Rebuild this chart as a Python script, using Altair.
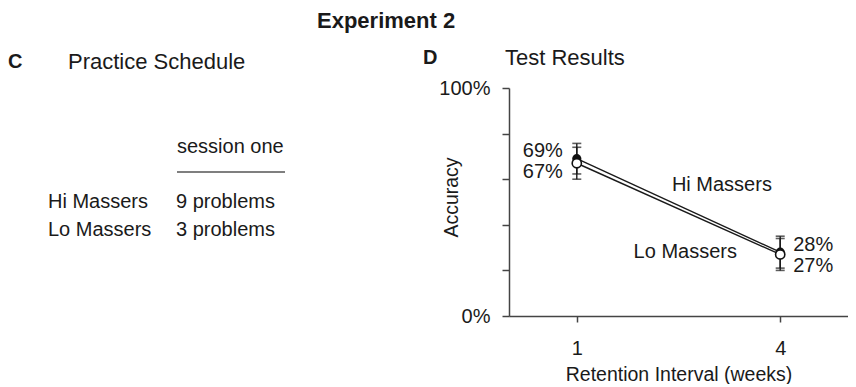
import altair as alt
import pandas as pd

# ---------------- data ----------------
weeks = [1, 4]
series = ["Hi Massers", "Lo Massers"]
hi_acc = [0.69, 0.28]
lo_acc = [0.67, 0.27]
hi_err = [0.067, 0.07]
lo_err = [0.07, 0.07]

groups = ["Hi Massers", "Lo Massers"]
problems = ["9 problems", "3 problems"]

FONT = "Liberation Sans"
INK = "#1a1a1a"
W, H = 339, 228

rows = []
for s, accs, errs in [(series[0], hi_acc, hi_err), (series[1], lo_acc, lo_err)]:
    for w, a, e in zip(weeks, accs, errs):
        rows.append({"series": s, "week": w, "acc": a, "lo": a - e, "hi": a + e})
df = pd.DataFrame(rows)

one = alt.InlineData(values=[{"k": 1}])


def note(text, x, y, size=20, weight="normal", align="left"):
    return alt.Chart(one).mark_text(
        text=text, font=FONT, fontSize=size, fontWeight=weight, align=align,
        baseline="middle", color=INK,
    ).encode(x=alt.value(x), y=alt.value(y))


# ---------------- panel C (schedule table), drawn left of panel D ----------------
panel_c = [
    note("Experiment 2", -192, -67, size=22, weight="bold"),
    note("C", -501, -26, size=20, weight="bold"),
    note("Practice Schedule", -441, -26, size=22),
    note("session one", -332, 59),
    alt.Chart(one).mark_rule(color="#555", strokeWidth=1.6).encode(
        x=alt.value(-332), x2=alt.value(-224), y=alt.value(84)),
]
for i, (g, p) in enumerate(zip(groups, problems)):
    panel_c.append(note(g, -461, 114 + 28 * i))
    panel_c.append(note(p, -333, 114 + 28 * i))

panel_d_titles = [
    note("D", -86, -30, size=20, weight="bold"),
    note("Test Results", -4, -30, size=22),
]

# ---------------- panel D (test results) ----------------
x_enc = alt.X("week:Q", scale=alt.Scale(domain=[0, 5], nice=False),
              axis=alt.Axis(values=weeks, format="d", title="Retention Interval (weeks)",
                            grid=False, tickSize=6, labelPadding=16, titlePadding=7))
y_axis = alt.Axis(values=[0, 0.2, 0.4, 0.6, 0.8, 1.0],
                  labelExpr="datum.value == 0 || datum.value == 1 ? format(datum.value, '.0%') : ''",
                  title="Accuracy", grid=False, tickSize=7, labelPadding=12,
                  titleX=-48, titleY=109)
yscale = alt.Scale(domain=[0, 1], nice=False)


def Y(field):
    return alt.Y(f"{field}:Q", scale=yscale, axis=y_axis, title="Accuracy")


base = alt.Chart(df)
hi_only = alt.datum.series == series[0]
lo_only = alt.datum.series == series[1]

lines = base.mark_line(color=INK, strokeWidth=1.4).encode(x=x_enc, y=Y("acc"), detail="series:N")
bars = base.mark_rule(color=INK, strokeWidth=1.4).encode(x=x_enc, y=Y("lo"), y2="hi:Q")
cap_lo = base.mark_tick(orient="horizontal", size=9, thickness=1.6, color=INK).encode(x=x_enc, y=Y("lo"))
cap_hi = base.mark_tick(orient="horizontal", size=9, thickness=1.6, color=INK).encode(x=x_enc, y=Y("hi"))
pts_hi = base.transform_filter(hi_only).mark_point(
    shape="circle", size=85, filled=True, color="#111", opacity=1).encode(x=x_enc, y=Y("acc"))
pts_lo = base.transform_filter(lo_only).mark_point(
    shape="circle", size=85, fill="white", fillOpacity=1, stroke="#111", strokeWidth=1.6,
    opacity=1).encode(x=x_enc, y=Y("acc"))


def lab(flt, align, dx, dy):
    return base.transform_filter(flt).mark_text(
        font=FONT, fontSize=20, align=align, baseline="middle", dx=dx, dy=dy, color=INK
    ).encode(x=x_enc, y=Y("acc"), text=alt.Text("acc:Q", format=".0%"))


lab1_hi = lab(hi_only & (alt.datum.week == 1), "right", -14, -8)
lab1_lo = lab(lo_only & (alt.datum.week == 1), "right", -14, 9)
lab4_hi = lab(hi_only & (alt.datum.week == 4), "left", 13, -7)
lab4_lo = lab(lo_only & (alt.datum.week == 4), "left", 13, 12)


def series_name(text, xv, yv):
    return alt.Chart(one).mark_text(
        text=text, font=FONT, fontSize=20, align="center", baseline="middle", color=INK
    ).encode(x=alt.datum(xv, type="quantitative"), y=alt.datum(yv, type="quantitative"))


name_hi = series_name(series[0], 3.14, 0.575)
name_lo = series_name(series[1], 2.6, 0.281)

chart = alt.layer(
    lines, bars, cap_lo, cap_hi, pts_hi, pts_lo,
    lab1_hi, lab1_lo, lab4_hi, lab4_lo, name_hi, name_lo,
    *panel_d_titles, *panel_c,
).properties(
    width=W, height=H, padding={"top": 2, "left": 0, "right": 0, "bottom": 0},
).configure_view(stroke=None).configure_axis(
    domainColor="#444", domainWidth=1.5, tickColor="#444", tickWidth=1.5,
    labelFont=FONT, labelFontSize=20, labelColor=INK,
    titleFont=FONT, titleFontSize=19.5, titleFontWeight="normal", titleColor=INK,
)

chart.save("out.html", embed_options={"renderer": "svg", "actions": False})
